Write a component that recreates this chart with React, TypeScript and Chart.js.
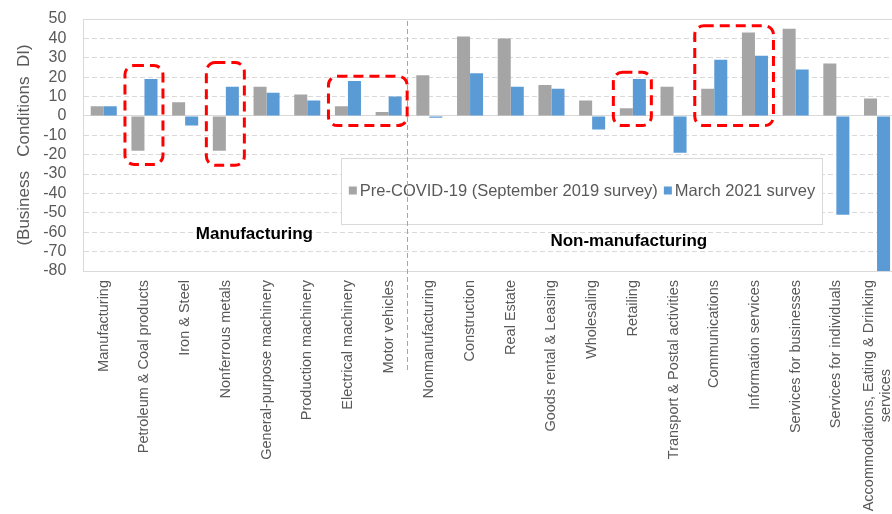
import React, { useEffect, useRef } from 'react';
import { Chart, registerables } from 'chart.js';

Chart.register(...registerables);

// ---------------- data ----------------
const categories: (string | string[])[] = [
  'Manufacturing',
  'Petroleum & Coal products',
  'Iron & Steel',
  'Nonferrous metals',
  'General-purpose machinery',
  'Production machinery',
  'Electrical machinery',
  'Motor vehicles',
  'Nonmanufacturing',
  'Construction',
  'Real Estate',
  'Goods rental & Leasing',
  'Wholesaling',
  'Retailing',
  'Transport & Postal activities',
  'Communications',
  'Information services',
  'Services for businesses',
  'Services for individuals',
  ['Accommodations, Eating & Drinking', 'services'],
];

const preCovid = [5, -18, 7, -18, 15, 11, 5, 2, 21, 41, 40, 16, 8, 4, 15, 14, 43, 45, 27, 9];
const march2021 = [5, 19, -5, 15, 12, 8, 18, 10, -1, 22, 15, 14, -7, 19, -19, 29, 31, 24, -51, -82];

const seriesNames = ['Pre-COVID-19 (September 2019 survey)', 'March 2021 survey'];
const yTitle = '(Business   Conditions  DI)';
const yMin = -80;
const yMax = 50;
const yStep = 10;

// highlighted groups: category index range and value range
const highlightFrom = [1, 3, 6, 13, 15];
const highlightTo = [1, 3, 7, 13, 16];
const highlightTop = [26, 27.5, 20.5, 22.5, 46.5];
const highlightBottom = [-25, -25.5, -5, -5, -5];

const groupLabels = ['Manufacturing', 'Non-manufacturing'];
const groupLabelPos = [3.7, 12.9]; // category position
const groupLabelVal = [-61, -64.5]; // value position
const separatorAfter = 7; // separator between index 7 and 8

// ---------------- styles ----------------
const GRAY = '#A5A5A5';
const BLUE = '#5B9BD5';
const TEXT = '#595959';
const GRID = '#D9D9D9';
const FONT = '"Liberation Sans", Arial, sans-serif';

const xLabelPlugin = {
  id: 'xLabels',
  afterDraw(chart: any) {
    const { ctx, scales } = chart;
    const x = scales.x;
    ctx.save();
    ctx.font = `14.5px ${FONT}`;
    ctx.fillStyle = TEXT;
    ctx.textAlign = 'center';
    ctx.textBaseline = 'middle';
    const lh = 17;
    const top = chart.chartArea.bottom + 9;
    categories.forEach((lab, i) => {
      const lines = Array.isArray(lab) ? lab : [lab];
      const cx = x.getPixelForValue(i);
      const maxW = Math.max(...lines.map((l) => ctx.measureText(l).width));
      lines.forEach((line, j) => {
        const lx = cx + (j - (lines.length - 1) / 2) * lh;
        ctx.save();
        ctx.translate(lx, top);
        ctx.rotate(-Math.PI / 2);
        ctx.fillText(line, -maxW / 2, 0);
        ctx.restore();
      });
    });
    ctx.restore();
  },
};

const overlayPlugin = {
  id: 'overlay',
  afterDatasetsDraw(chart: any) {
    const { ctx, scales, chartArea } = chart;
    const x = scales.x;
    const y = scales.y;

    // legend box
    ctx.save();
    const bx = 341, by = 158, bw = 482, bh = 67;
    ctx.fillStyle = '#FFFFFF';
    ctx.fillRect(bx, by, bw, bh);
    ctx.strokeStyle = GRID;
    ctx.lineWidth = 1;
    ctx.strokeRect(bx + 0.5, by + 0.5, bw - 1, bh - 1);
    ctx.font = `16.5px ${FONT}`;
    ctx.textBaseline = 'middle';
    ctx.textAlign = 'left';
    const colors = [GRAY, BLUE];
    const sq = 8, gap = 3, itemGap = 6;
    const widths = seriesNames.map((s) => ctx.measureText(s).width);
    const total = widths.reduce((a, w) => a + sq + gap + w, 0) + itemGap;
    let lx = bx + (bw - total) / 2;
    const ly = by + bh / 2 - 1;
    seriesNames.forEach((s, i) => {
      ctx.fillStyle = colors[i];
      ctx.fillRect(lx, ly - sq / 2, sq, sq);
      ctx.fillStyle = TEXT;
      ctx.fillText(s, lx + sq + gap, ly + 1);
      lx += sq + gap + widths[i] + itemGap;
    });
    ctx.restore();

    // vertical dashed separator
    ctx.save();
    const sx = Math.round((x.getPixelForValue(separatorAfter) + x.getPixelForValue(separatorAfter + 1)) / 2) + 0.5 - 2;
    ctx.strokeStyle = '#A6A6A6';
    ctx.lineWidth = 1;
    ctx.setLineDash([5, 3]);
    ctx.beginPath();
    ctx.moveTo(sx, chartArea.top + 2);
    ctx.lineTo(sx, chartArea.bottom + 101);
    ctx.stroke();
    ctx.restore();

    // red dashed highlight boxes
    ctx.save();
    ctx.strokeStyle = '#FF0000';
    ctx.lineWidth = 3;
    ctx.setLineDash([10, 6]);
    highlightFrom.forEach((f, i) => {
      const l = x.getPixelForValue(f) - 19.5;
      const r = x.getPixelForValue(highlightTo[i]) + 18.5;
      const t = y.getPixelForValue(highlightTop[i]);
      const b = y.getPixelForValue(highlightBottom[i]);
      ctx.beginPath();
      ctx.roundRect(l, t, r - l, b - t, 9);
      ctx.stroke();
    });
    ctx.restore();

    // group labels
    ctx.save();
    ctx.font = `bold 17px ${FONT}`;
    ctx.fillStyle = '#000000';
    ctx.textAlign = 'center';
    ctx.textBaseline = 'middle';
    groupLabels.forEach((g, i) => {
      ctx.fillText(g, x.getPixelForValue(groupLabelPos[i]), y.getPixelForValue(groupLabelVal[i]));
    });
    ctx.restore();
  },
};

export default function App() {
  const ref = useRef<HTMLCanvasElement | null>(null);

  useEffect(() => {
    if (!ref.current) return;
    const chart = new Chart(ref.current, {
      type: 'bar',
      data: {
        labels: categories.map((c) => (Array.isArray(c) ? c.join(' ') : c)),
        datasets: [
          { label: seriesNames[0], data: preCovid, backgroundColor: GRAY, borderWidth: 0 },
          { label: seriesNames[1], data: march2021, backgroundColor: BLUE, borderWidth: 0 },
        ],
      },
      options: {
        animation: false,
        responsive: true,
        maintainAspectRatio: false,
        datasets: { bar: { categoryPercentage: 0.64, barPercentage: 1 } },
        layout: { padding: { top: 19, right: 2.6, left: 0, bottom: 0 } },
        plugins: { legend: { display: false }, tooltip: { enabled: false } },
        scales: {
          x: {
            grid: { display: false, drawTicks: false },
            border: { display: true, color: GRID, width: 1 },
            ticks: { display: false },
            afterFit(scale: any) {
              scale.height = 243;
            },
          },
          y: {
            min: yMin,
            max: yMax,
            ticks: {
              stepSize: yStep,
              autoSkip: false,
              color: TEXT,
              font: { family: FONT, size: 16 },
              padding: 0,
            },
            grid: {
              color: GRID,
              lineWidth: 1,
              drawTicks: true,
              tickLength: 17,
              tickColor: 'rgba(0,0,0,0)',
            },
            border: {
              display: true,
              color: GRID,
              dash: (ctx: any) =>
                ctx.tick && ctx.tick.value !== 0 && ctx.tick.value !== yMax && ctx.tick.value !== yMin ? [5, 3] : [],
            },
            title: {
              display: true,
              text: yTitle,
              color: TEXT,
              font: { family: FONT, size: 17 },
              padding: { top: 14, bottom: 0 },
            },
            afterFit(scale: any) {
              scale.width = 83.4;
            },
          },
        },
      },
      plugins: [overlayPlugin, xLabelPlugin],
    });
    return () => chart.destroy();
  }, []);

  return (
    <div style={{ position: 'fixed', left: 0, top: 0, width: 892, height: 514, overflow: 'hidden', background: '#fff' }}>
      <div style={{ position: 'relative', width: 900, height: 514 }}>
        <canvas ref={ref} />
      </div>
    </div>
  );
}
